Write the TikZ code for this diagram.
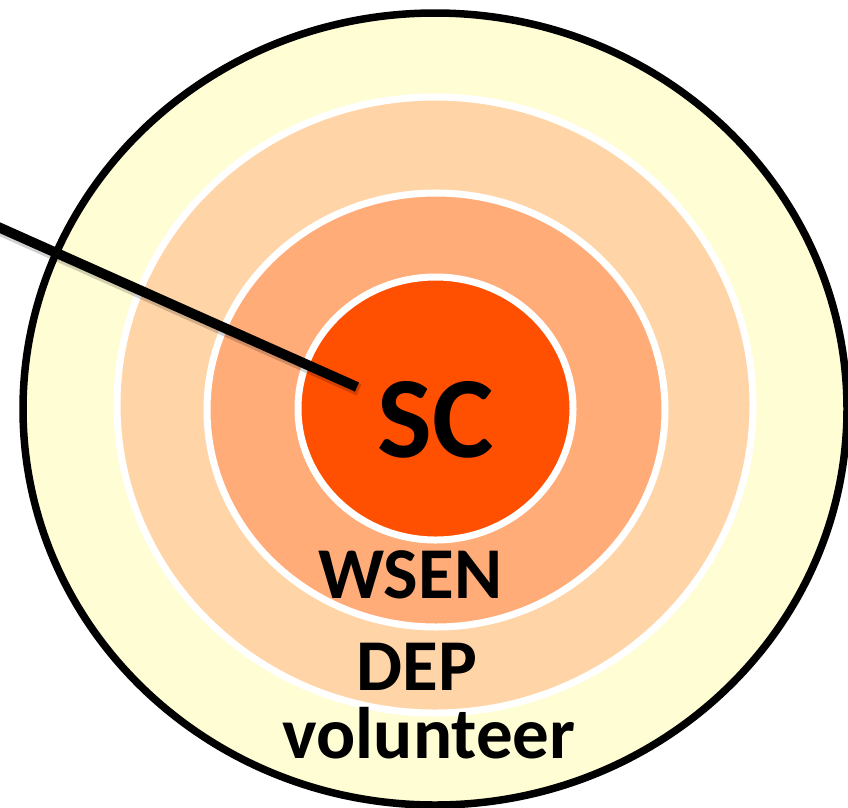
\documentclass[tikz,border=0pt]{standalone}
\usepackage{fontspec}
\setmainfont{Carlito}
\definecolor{ringOuter}{HTML}{FFFDD4}
\definecolor{ringThree}{HTML}{FFD5A8}
\definecolor{ringTwo}{HTML}{FFAC79}
\definecolor{ringCore}{HTML}{FF4F00}
\tikzset{
  ring/.style={draw=white, line width=7pt},
  label/.style={anchor=base, inner sep=0pt, font=\bfseries\fontsize{73}{73}\selectfont},
  corelabel/.style={anchor=base, inner sep=0pt, font=\bfseries\fontsize{116}{116}\selectfont},
  pointer/.style={line width=10pt, black},
  pointershadow/.style={line width=12pt, black, opacity=0.18}
}
\begin{document}
\begin{tikzpicture}[x=1pt, y=-1pt]
  \useasboundingbox (0,0) rectangle (848,807);
  % concentric rings, outermost first
  \filldraw[fill=ringOuter, draw=black, line width=7.5pt] (435,409) ellipse [x radius=412, y radius=396];
  \filldraw[ring, fill=ringThree] (435,405) ellipse [x radius=318, y radius=308];
  \filldraw[ring, fill=ringTwo] (436,410) ellipse [x radius=229, y radius=217];
  \filldraw[ring, fill=ringCore] (435.5,408.5) ellipse [x radius=137.5, y radius=131.5];
  % pointer line into the centre
  \coordinate (lineStart) at (-4,226);
  \coordinate (lineEnd) at (357,387);
  \draw[pointershadow] ([shift={(2,3)}]lineStart) -- ([shift={(2,3)}]lineEnd);
  \draw[pointer] (lineStart) -- (lineEnd);
  % ring labels
  \node[corelabel] (sc) at (436,457) {SC};
  \node[label] (wsen) at (410,598) {WSEN};
  \node[label] (dep) at (417,690) {DEP};
  \node[label] (vol) at (429,758) {volunteer};
\end{tikzpicture}
\end{document}
